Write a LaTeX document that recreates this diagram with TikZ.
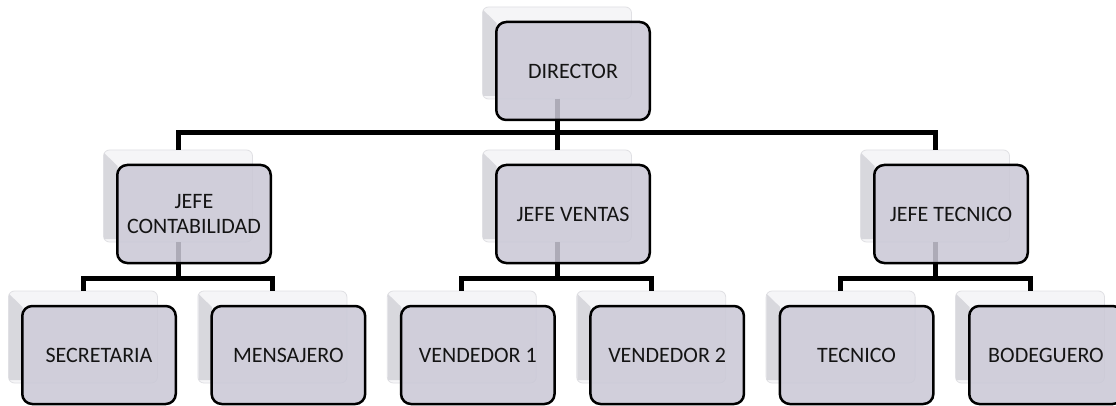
\documentclass[tikz,border=0pt]{standalone}
\usepackage{fontspec}
\setmainfont{Carlito}
\usetikzlibrary{calc}

\definecolor{backfill}{HTML}{F5F5F7}
\definecolor{backline}{HTML}{E0E0E4}
\definecolor{bevelgray}{HTML}{D8D8DD}
\definecolor{boxfill}{HTML}{CAC8D6}
\definecolor{textcol}{HTML}{141414}

\tikzset{
  backbox/.style={draw=backline, fill=backfill, line width=0.8pt,
    rounded corners=6pt, minimum width=149pt, minimum height=92pt,
    inner sep=0pt, outer sep=0pt},
  frontbox/.style={draw=black, line width=2.5pt, rounded corners=10pt,
    fill=boxfill, fill opacity=0.86, text opacity=1, text=textcol,
    minimum width=153.5pt, minimum height=98pt, inner sep=2pt,
    align=center, font=\fontsize{22}{24.5}\selectfont, outer sep=0pt},
  conn/.style={line width=5pt, draw=black},
}

% back plate of a card: name, centre x, top y
\newcommand\cardback[3]{%
  \node[backbox] (#1) at (#2, #3+46) {};
  \fill[bevelgray] ($(#1.north west)+(0.6,3)$) -- ($(#1.north west)+(14,16)$)
    -- ($(#1.south west)+(14,-3)$) -- ($(#1.south west)+(0.6,-3)$) -- cycle;
}
% front face of a card, drawn over the connectors
\newcommand\cardfront[2]{%
  \node[frontbox] (#1f) at ($(#1)+(16,18)$) {#2};
}

\begin{document}
\begin{tikzpicture}[x=1pt, y=-1pt]
  \useasboundingbox (0,0) rectangle (1116,406);
  \fill[white] (0,0) rectangle (1116,406);
  \clip (0,0) rectangle (1116,406);

  % back plates
  \cardback{dir}{557}{7}
  \cardback{jc}{178}{150}
  \cardback{jv}{557}{150}
  \cardback{jt}{935}{150}
  \cardback{sec}{83}{291}
  \cardback{men}{272.4}{291}
  \cardback{vu}{461.8}{291}
  \cardback{vd}{651.2}{291}
  \cardback{tec}{840.6}{291}
  \cardback{bod}{1030}{291}

  % connectors
  \draw[conn] (dir.south) -- ++(0,34) -| (jc.north);
  \draw[conn] (dir.south) -- ++(0,34) -| (jt.north);
  \draw[conn] (dir.south) -- (jv.north);

  \draw[conn] (jc.south) -- ++(0,36) -| (sec.north);
  \draw[conn] (jc.south) -- ++(0,36) -| (men.north);
  \draw[conn] (jv.south) -- ++(0,36) -| (vu.north);
  \draw[conn] (jv.south) -- ++(0,36) -| (vd.north);
  \draw[conn] (jt.south) -- ++(0,36) -| (tec.north);
  \draw[conn] (jt.south) -- ++(0,36) -| (bod.north);

  % front faces
  \cardfront{dir}{DIRECTOR}
  \cardfront{jc}{JEFE\\CONTABILIDAD}
  \cardfront{jv}{JEFE VENTAS}
  \cardfront{jt}{JEFE TECNICO}
  \cardfront{sec}{SECRETARIA}
  \cardfront{men}{MENSAJERO}
  \cardfront{vu}{VENDEDOR 1}
  \cardfront{vd}{VENDEDOR 2}
  \cardfront{tec}{TECNICO}
  \cardfront{bod}{BODEGUERO}
\end{tikzpicture}
\end{document}
